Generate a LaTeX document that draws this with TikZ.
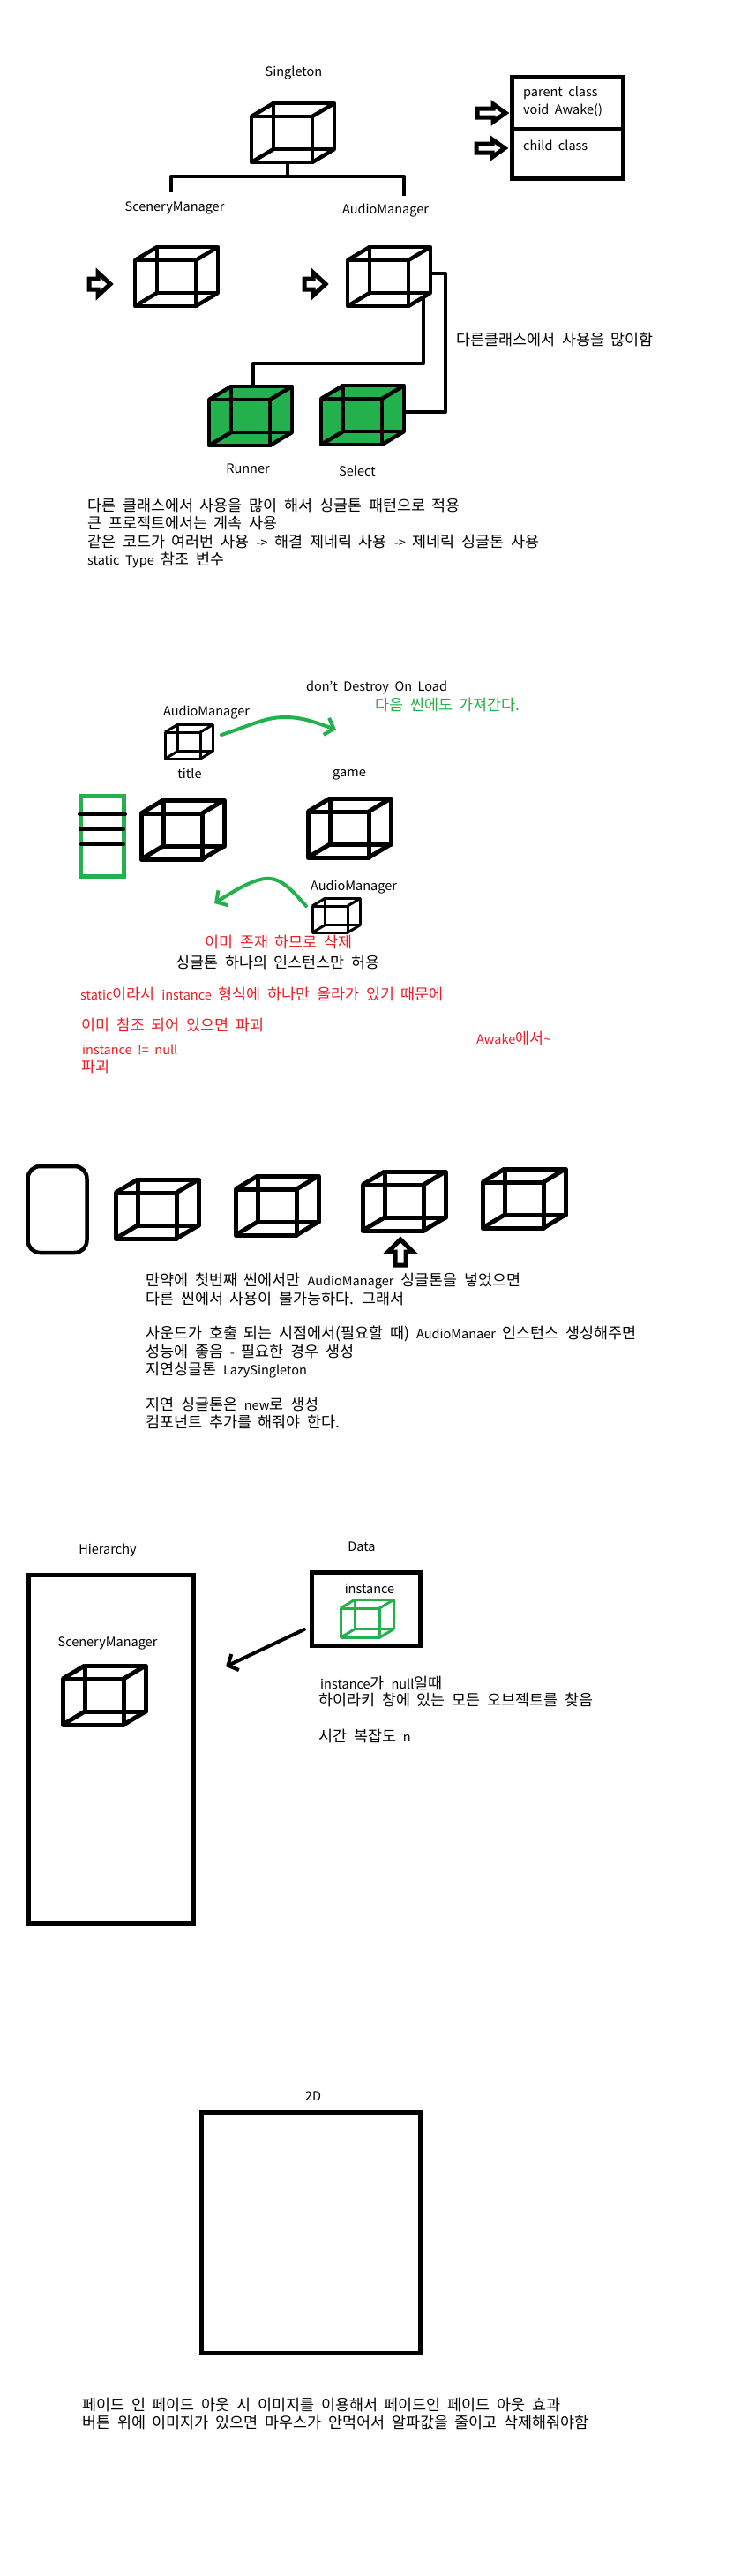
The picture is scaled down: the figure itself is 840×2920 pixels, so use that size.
\documentclass[tikz,border=0pt]{standalone}
\usepackage{fontspec}
\setmainfont{Noto Sans CJK KR}[WordSpace=2]
\usetikzlibrary{arrows.meta}
\definecolor{paintGreen}{HTML}{22B14C}
\definecolor{paintRed}{HTML}{ED1C24}
\newcommand{\ltn}[1]{{\fontsize{14.5}{20}\selectfont #1}}
\tikzset{
    cubeFill/.initial=none,
    pics/wirecube/.style={code={
        \path[fill=\pgfkeysvalueof{/tikz/cubeFill}] (0,0) -- (25,-15) -- (94,-15) -- (94,37) -- (69,52) -- (0,52) -- cycle;
        \draw[line join=round] (0,0) rectangle (69,52);
        \draw[line join=round] (25,-15) rectangle (94,37);
        \draw (0,0) -- (25,-15) (69,0) -- (94,-15) (0,52) -- (25,37) (69,52) -- (94,37);
        \coordinate (-bottom) at (41,52);
        \coordinate (-top) at (50,-15);
        \coordinate (-right) at (94,15);
        \coordinate (-lower) at (86,42);
    }},
    % length, half of the head, half of the shaft
    pics/fatarrow/.style n args={3}{code={
        \draw[line width=5pt] (0,-#3) -- (#1-14,-#3) -- (#1-14,-#2) -- (#1,0) -- (#1-14,#2) -- (#1-14,#3) -- (0,#3) -- cycle;
    }},
    txt/.style={anchor=west, inner sep=0pt, font=\fontsize{17.4}{20}\selectfont},
    ctxt/.style={inner sep=0pt, font=\fontsize{14.5}{20}\selectfont},
    wire/.style={line width=4.5pt, line join=round},
    frameBox/.style={draw, line width=5pt, inner sep=0pt, outer sep=0pt},
    greenCurve/.style={draw=paintGreen, line width=4pt, line cap=round, -{Straight Barb[length=9pt,width=20pt,line width=4pt]}},
}
\begin{document}
\begin{tikzpicture}[x=1pt, y=-1pt]
    \useasboundingbox (0,0) rectangle (840,2920);
    % singleton
    \node[ctxt] (singletonLabel) at (333,83) {Singleton};
    \pic[line width=4.5pt] (singletonCube) at (285,132) {wirecube};
    \node[frameBox, minimum width=126pt, minimum height=115pt] (classBox) at (643,144.5) {};
    \coordinate (classLeft) at (580,146);
    \coordinate (classRight) at (706,146);
    \draw[wire] (classLeft) -- (classRight);
    \node[txt, ctxt, anchor=west] (parentLabel) at (593,105) {parent class};
    \node[txt, ctxt, anchor=west] (awakeLabel) at (593,125) {void Awake()};
    \node[txt, ctxt, anchor=west] (childLabel) at (593,165) {child class};
    \pic (parentArrow) at (541,128) {fatarrow={32}{10}{5}};
    \pic (childArrow) at (540,168) {fatarrow={32}{10}{5}};
    \coordinate (treeJoint) at (326,200);
    \coordinate (sceneryEnd) at (194,218);
    \coordinate (audioEnd) at (458,222);
    \draw[wire] (singletonCube-bottom) -- (treeJoint);
    \draw[wire] (sceneryEnd) |- (treeJoint) -| (audioEnd);
    \node[ctxt] (sceneryLabel) at (198,236) {SceneryManager};
    \node[ctxt] (audioLabel) at (437,239) {AudioManager};
    \pic (sceneryArrow) at (101,322) {fatarrow={24}{13}{6}};
    \pic (audioArrow) at (345,322) {fatarrow={24}{13}{6}};
    \pic[line width=4.5pt] (sceneryCube) at (153,295) {wirecube};
    \pic[line width=4.5pt] (audioCube) at (394,295) {wirecube};
    \pic[cubeFill=paintGreen, line width=4.5pt] (runnerCube) at (237,453) {wirecube};
    \pic[cubeFill=paintGreen, line width=4.5pt] (selectCube) at (364,452) {wirecube};
    \coordinate (runnerBend) at (400,412);
    \coordinate (selectBend) at (505,400);
    \draw[wire] (audioCube-lower) |- (runnerBend) -| (runnerCube-top);
    \draw[wire] (audioCube-right) -| (selectBend) |- (selectCube-right);
    \node[ctxt] (runnerLabel) at (281,531) {Runner};
    \node[ctxt] (selectLabel) at (405,534) {Select};
    \node[txt] (usageNote) at (517,385) {다른클래스에서 사용을 많이함};
    \node[txt] (noteA) at (99,573) {다른 클래스에서 사용을 많이 해서 싱글톤 패턴으로 적용};
    \node[txt] (noteB) at (99,593) {큰 프로젝트에서는 계속 사용};
    \node[txt] (noteC) at (99,614) {같은 코드가 여러번 사용 \ltn{->} 해결 제네릭 사용 \ltn{->} 제네릭 싱글톤 사용};
    \node[txt] (noteD) at (99,635) {\ltn{static Type} 참조 변수};
    % don't destroy
    \node[ctxt] (destroyLabel) at (427,779) {don't Destroy On Load};
    \node[txt, text=paintGreen] (carryNote) at (425,799) {다음 씬에도 가져간다.};
    \node[ctxt] (audioTitleLabel) at (234,808) {AudioManager};
    \pic[line width=3pt, scale=.58] (audioTitleCube) at (187,830) {wirecube};
    \coordinate (carryStart) at (251,833);
    \coordinate (carryEnd) at (381,827);
    \draw[greenCurve] (carryStart) .. controls (285,822) and (300,813) .. (323,813) .. controls (345,813) and (360,820) .. (carryEnd);
    \node[ctxt] (titleLabel) at (215,877) {title};
    \node[ctxt] (gameLabel) at (396,878) {game};
    \node[frameBox, draw=paintGreen, minimum width=49pt, minimum height=91pt] (stackBox) at (115.5,947.5) {};
    \foreach \nam/\ya/\xa/\xb in {barA/923/90/142, barB/940/91/140, barC/957/92/140} {
        \coordinate (\nam L) at (\xa,\ya);
        \coordinate (\nam R) at (\xb,\ya);
        \draw[line width=4pt, line cap=round] (\nam L) -- (\nam R);
    }
    \pic[line width=5pt] (titleCube) at (160,922) {wirecube};
    \pic[line width=5pt] (gameCube) at (349,920) {wirecube};
    \coordinate (removeStart) at (347,1027);
    \coordinate (removeEnd) at (243,1024);
    \draw[greenCurve] (removeStart) .. controls (330,1008) and (318,994) .. (300,996) .. controls (285,998) and (265,1010) .. (removeEnd);
    \node[ctxt] (audioGameLabel) at (401,1006) {AudioManager};
    \pic[line width=3pt, scale=.58] (audioGameCube) at (354,1027) {wirecube};
    \node[txt, text=paintRed] (removeNote) at (232,1068) {이미 존재 하므로 삭제};
    \node[txt] (onlyNote) at (199,1091) {싱글톤 하나의 인스턴스만 허용};
    \node[txt, text=paintRed] (staticNote) at (91,1127) {\ltn{static}이라서 \ltn{instance} 형식에 하나만 올라가 있기 때문에};
    \node[txt, text=paintRed] (refNote) at (92,1162) {이미 참조 되어 있으면 파괴};
    \node[txt, ctxt, anchor=west, text=paintRed] (nullNote) at (93,1190) {instance != null};
    \node[txt, text=paintRed] (breakNote) at (92,1209) {파괴};
    \node[txt, text=paintRed] (awakeNote) at (540,1177) {\ltn{Awake}에서\ltn{\textasciitilde}};
    % lazy singleton
    \node[frameBox, rounded corners=14pt, line width=4.5pt, minimum width=67pt, minimum height=98pt] (phoneBox) at (65,1371) {};
    \pic[line width=5pt] (sceneCubeA) at (131,1352) {wirecube};
    \pic[line width=5pt] (sceneCubeB) at (267,1348) {wirecube};
    \pic[line width=5pt] (sceneCubeC) at (411,1343) {wirecube};
    \pic[line width=5pt] (sceneCubeD) at (547,1340) {wirecube};
    \pic[rotate=90] (sceneArrow) at (454,1434) {fatarrow={29}{14}{6}};
    \node[txt] (lazyA) at (165,1452) {만약에 첫번째 씬에서만 \ltn{AudioManager} 싱글톤을 넣었으면};
    \node[txt] (lazyB) at (165,1472) {다른 씬에서 사용이 불가능하다. 그래서};
    \node[txt] (lazyC) at (165,1512) {사운드가 호출 되는 시점에서(필요할 때) \ltn{AudioManaer} 인스턴스 생성해주면};
    \node[txt] (lazyD) at (165,1532) {성능에 좋음 \ltn{-} 필요한 경우 생성};
    \node[txt] (lazyE) at (165,1553) {지연싱글톤 \ltn{LazySingleton}};
    \node[txt] (lazyF) at (165,1592) {지연 싱글톤은 \ltn{new}로 생성};
    \node[txt] (lazyG) at (165,1612) {컴포넌트 추가를 해줘야 한다.};
    % hierarchy
    \node[ctxt] (hierarchyLabel) at (122,1757) {Hierarchy};
    \node[ctxt] (dataLabel) at (410,1753) {Data};
    \node[frameBox, minimum width=187pt, minimum height=395pt] (hierarchyBox) at (125.5,1982.5) {};
    \node[ctxt] (sceneryHierLabel) at (122,1863) {SceneryManager};
    \pic[line width=5pt] (sceneryHierCube) at (71,1903) {wirecube};
    \node[frameBox, minimum width=123pt, minimum height=83pt] (dataBox) at (415,1823.5) {};
    \node[ctxt] (instanceLabel) at (419,1801) {instance};
    \pic[color=paintGreen, line width=3pt, scale=.64] (instanceCube) at (386,1823) {wirecube};
    \coordinate (searchStart) at (345,1847);
    \coordinate (searchEnd) at (256,1889);
    \draw[line width=4pt, line cap=round, -{Straight Barb[length=9pt,width=20pt,line width=4pt]}] (searchStart) -- (searchEnd);
    \node[txt] (searchA) at (363,1908) {\ltn{instance}가 \ltn{null}일때};
    \node[txt] (searchB) at (361,1927) {하이라키 창에 있는 모든 오브젝트를 찾음};
    \node[txt] (searchC) at (361,1968) {시간 복잡도 \ltn{n}};
    % 2D
    \node[ctxt] (canvasLabel) at (355,2376) {2D};
    \node[frameBox, minimum width=248pt, minimum height=273pt] (canvasBox) at (352,2530.5) {};
    \node[txt] (fadeA) at (93,2726) {페이드 인 페이드 아웃 시 이미지를 이용해서 페이드인 페이드 아웃 효과};
    \node[txt] (fadeB) at (93,2746) {버튼 위에 이미지가 있으면 마우스가 안먹어서 알파값을 줄이고 삭제해줘야함};
\end{tikzpicture}
\end{document}
